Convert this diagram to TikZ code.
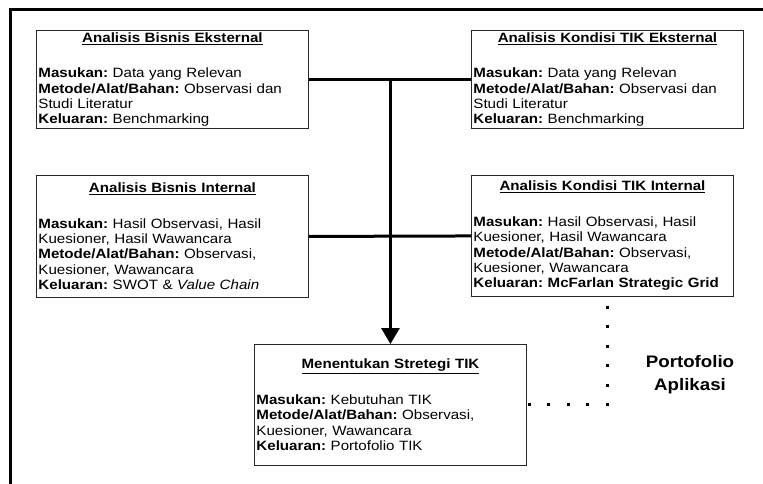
\documentclass[tikz,border=0pt]{standalone}
\usepackage{fontspec}
\setmainfont{Liberation Sans}[FakeStretch=1.12]
\usetikzlibrary{positioning,arrows.meta}
\frenchspacing
\newcommand{\boxhead}[1]{{\centering\underline{\textbf{#1}}\par}\vspace{1.3\baselineskip}}

\begin{document}
\begin{tikzpicture}
    [x=1pt, y=-1pt,
    font=\fontsize{13.5}{15.4}\selectfont,
    stepbox/.style={draw=black!85, line width=0.9pt, rectangle, anchor=north west,
    text width=268pt, inner xsep=2pt, inner ysep=2pt, align=left},
    link/.style={draw=black, line width=3pt},
    dotlink/.style={draw=black, line width=3pt, dash pattern=on 3pt off 16.5pt}]
    \useasboundingbox (0,0) rectangle (763,484);
    \draw[link] (763,10) -- (10,10) -- (10,484);

    \node[stepbox, minimum height=98pt] (bisnisEks) at (36,30) {\boxhead{Analisis Bisnis Eksternal}
        \textbf{Masukan:} Data yang Relevan\\
        \textbf{Metode/Alat/Bahan:} Observasi dan\\
        Studi Literatur\\
        \textbf{Keluaran:} Benchmarking};
    \node[stepbox, minimum height=98pt] (tikEks) at (471,30) {\boxhead{Analisis Kondisi TIK Eksternal}
        \textbf{Masukan:} Data yang Relevan\\
        \textbf{Metode/Alat/Bahan:} Observasi dan\\
        Studi Literatur\\
        \textbf{Keluaran:} Benchmarking};
    \node[stepbox, minimum height=122pt] (bisnisInt) at (36,175) {\boxhead{Analisis Bisnis Internal}
        \textbf{Masukan:} Hasil Observasi, Hasil\\
        Kuesioner, Hasil Wawancara\\
        \textbf{Metode/Alat/Bahan:} Observasi,\\
        Kuesioner, Wawancara\\
        \textbf{Keluaran:} SWOT \& \textit{Value Chain}};
    \node[stepbox, minimum height=121pt, text width=258pt] (tikInt) at (471,175) {\boxhead{Analisis Kondisi TIK Internal}
        \textbf{Masukan:} Hasil Observasi, Hasil\\
        Kuesioner, Hasil Wawancara\\
        \textbf{Metode/Alat/Bahan:} Observasi,\\
        Kuesioner, Wawancara\\
        \textbf{Keluaran: McFarlan Strategic Grid}};
    \node[stepbox, minimum height=121pt] (strategi) at (254,344) {\boxhead{Menentukan Stretegi TIK}
        \textbf{Masukan:} Kebutuhan TIK\\
        \textbf{Metode/Alat/Bahan:} Observasi,\\
        Kuesioner, Wawancara\\
        \textbf{Keluaran:} Portofolio TIK};
    \node[font=\fontsize{16.7}{23}\selectfont\bfseries, align=center] (porto) at (690,374.5) {Portofolio\\Aplikasi};

    \draw[link] (bisnisEks.east) -- (tikEks.west);
    \draw[link] (bisnisInt.east) -- (tikInt.west);
    \draw[link, -{Triangle[width=18pt, length=16pt]}] (bisnisEks.east -| strategi.north) -- (strategi.north);

    \coordinate (dotTurn) at (strategi.east -| 607,0);
    \coordinate (dotTop) at (607,305);
    \draw[dotlink] ([xshift=1.5pt]dotTurn) -- (strategi.east);
    \draw[dotlink] ([yshift=-1.5pt]dotTurn) -- (dotTop);
\end{tikzpicture}
\end{document}
